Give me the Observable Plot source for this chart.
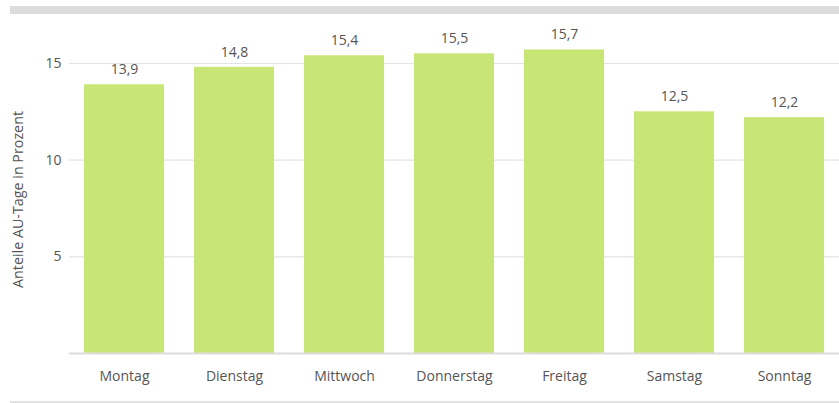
<!DOCTYPE html>
<html>
<head>
<meta charset="utf-8">
<script src="https://cdn.jsdelivr.net/npm/d3@7"></script>
<script src="https://cdn.jsdelivr.net/npm/@observablehq/plot@0.6"></script>
<style>
  html, body { margin: 0; padding: 0; background: #fff; }
  #wrap { width: 839px; height: 403px; position: relative; overflow: hidden; }
  #topbar { position: absolute; left: 10px; right: 0; top: 6px; height: 8px; background: #dcdcdc; }
  #chart { position: absolute; left: 0; top: 14px; }
  #bottomline { position: absolute; left: 10px; right: 0; top: 401px; height: 2px; background: #e2e2e2; }
  svg text { font-family: "Open Sans", sans-serif; }
</style>
</head>
<body>
<div id="wrap">
  <div id="topbar"></div>
  <div id="chart"></div>
  <div id="bottomline"></div>
</div>
<script>
const days = ["Montag", "Dienstag", "Mittwoch", "Donnerstag", "Freitag", "Samstag", "Sonntag"];
const values = [13.9, 14.8, 15.4, 15.5, 15.7, 12.5, 12.2];
const yTicks = [5, 10, 15];
const yLabel = "Anteile AU-Tage in Prozent";

const data = days.map((d, i) => ({day: d, value: values[i]}));
const fmt = v => v.toFixed(1).replace(".", ",");

const chart = Plot.plot({
  width: 839,
  height: 387,
  marginTop: 49,
  marginBottom: 48,
  marginLeft: 69,
  marginRight: 0,
  style: {fontFamily: "'Open Sans', sans-serif", fontSize: "14px", color: "#555", background: "transparent"},
  x: {domain: days, paddingInner: 0.2727, paddingOuter: 0.136, label: null},
  y: {domain: [0, 15], label: null},
  marks: [
    Plot.ruleY(yTicks, {stroke: "#e3e3e3", strokeWidth: 1.2}),
    Plot.barY(data, {x: "day", y: "value", fill: "#c8e675"}),
    Plot.ruleY([0], {stroke: "#dcdcdc", strokeWidth: 2}),
    Plot.text(data, {x: "day", y: "value", text: d => fmt(d.value), dy: -15, fill: "#555", fontSize: 14}),
    Plot.axisY({ticks: yTicks, tickSize: 0, tickPadding: 8, fontSize: 14, color: "#555", label: null}),
    Plot.text([yLabel], {frameAnchor: "left", textAnchor: "middle", rotate: -90, dx: -51, dy: -9, fill: "#555", fontSize: 14.3}),
    Plot.axisX({tickSize: 0, tickPadding: 18, fontSize: 14, color: "#555", label: null})
  ]
});
document.getElementById("chart").appendChild(chart);
</script>
</body>
</html>
